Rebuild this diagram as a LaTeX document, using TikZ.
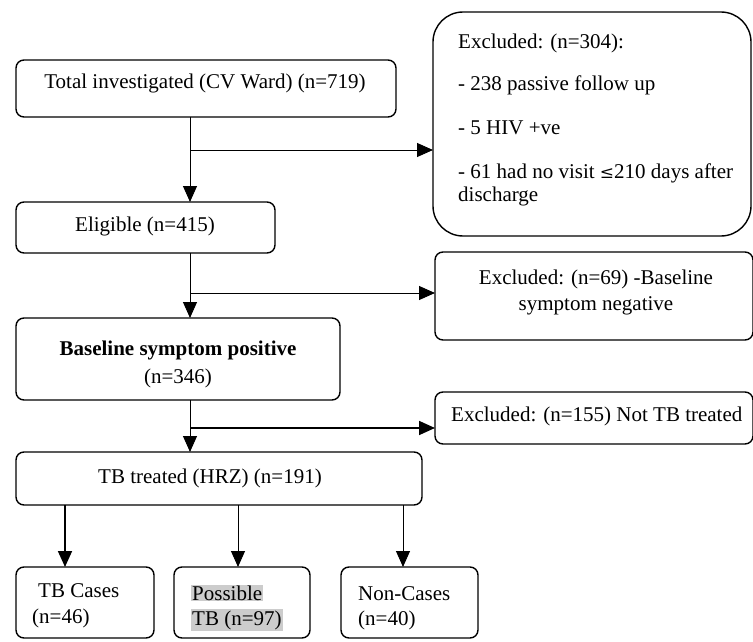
\documentclass[tikz,border=0pt]{standalone}
\usepackage{fontspec}
\setmainfont{Liberation Serif}
\newfontfamily\symfont{DejaVu Serif}
\usetikzlibrary{arrows.meta}
\begin{document}
\begin{tikzpicture}[x=1pt,y=-1pt,
 box/.style={draw,line width=1.4pt,rounded corners=8pt,inner sep=0pt,outer sep=0pt,anchor=north west},
 arr/.style={line width=0.9pt,-{Triangle[length=16pt,width=14pt]}},
 txt/.style={font=\fontsize{21}{24}\selectfont, inner sep=0pt},
 ltxt/.style={txt,anchor=west}]
\useasboundingbox (0,0) rectangle (753,642);
% boxes
\node[box,minimum width=380pt,minimum height=57pt] (total) at (16,60) {};
\node[box,rounded corners=30pt,minimum width=318pt,minimum height=224pt] (ex1) at (433,12) {};
\node[box,minimum width=259pt,minimum height=51pt] (elig) at (16,202) {};
\node[box,minimum width=318pt,minimum height=88pt] (ex2) at (435,252) {};
\node[box,minimum width=324pt,minimum height=82pt] (base) at (16,318) {};
\node[box,minimum width=318pt,minimum height=52pt] (ex3) at (435,392) {};
\node[box,minimum width=406pt,minimum height=53pt] (tbt) at (16,452) {};
\node[box,minimum width=138pt,minimum height=71pt] (cases) at (16,567) {};
\node[box,minimum width=136pt,minimum height=71pt] (poss) at (174,567) {};
\node[box,minimum width=137pt,minimum height=71pt] (non) at (341,567) {};
% texts
\node[txt] (totalt) at (205,83) {Total investigated (CV Ward) (n=719)};
\node[ltxt] (ex1a) at (458,43) {Excluded: (n=304):};
\node[ltxt] (ex1b) at (458,85) {- 238 passive follow up};
\node[ltxt] (ex1c) at (458,128) {- 5 HIV +ve};
\node[ltxt] (ex1d) at (458,173) {- 61 had no visit {\symfont\fontsize{17}{20}\selectfont≤}210 days after};
\node[ltxt] (ex1e) at (458,196) {discharge};
\node[txt] (eligt) at (145,226) {Eligible (n=415)};
\node[txt] (ex2a) at (596,279) {Excluded: (n=69) -Baseline};
\node[txt] (ex2b) at (596,306) {symptom negative};
\node[txt,font=\fontsize{21}{24}\selectfont\bfseries] (basea) at (178,350) {Baseline symptom positive};
\node[txt] (baseb) at (178,378) {(n=346)};
\node[ltxt] (ex3t) at (451,416) {Excluded: (n=155) Not TB treated};
\node[txt] (tbtt) at (210,478) {TB treated (HRZ) (n=191)};
\node[ltxt] (casesa) at (38,591) {TB Cases};
\node[ltxt] (casesb) at (32,618) {(n=46)};
\node[ltxt,fill=gray!40,inner sep=1pt] (possa) at (191,593) {Possible};
\node[ltxt,fill=gray!40,inner sep=1pt] (possb) at (191,620) {TB (n=97)};
\node[ltxt] (nona) at (358,594) {Non-Cases};
\node[ltxt] (nonb) at (358,620) {(n=40)};
% connectors
\coordinate (j1) at (190,150);
\coordinate (j2) at (190,293);
\coordinate (j3) at (190,428);
\draw[arr] (total.south -| j1) -- (elig.north -| j1);
\draw[arr] (j1) -- (ex1.west |- j1);
\draw[arr] (elig.south -| j2) -- (base.north -| j2);
\draw[arr] (j2) -- (ex2.west |- j2);
\draw[arr] (base.south -| j3) -- (tbt.north -| j3);
\draw[arr,line width=1.8pt] (j3) -- (ex3.west |- j3);
\coordinate (b1) at (65,505);
\coordinate (b2) at (238,505);
\coordinate (b3) at (403,505);
\draw[arr,line width=1.8pt] (tbt.south -| b1) -- (cases.north -| b1);
\draw[arr] (tbt.south -| b2) -- (poss.north -| b2);
\draw[arr] (tbt.south -| b3) -- (non.north -| b3);
\end{tikzpicture}
\end{document}
